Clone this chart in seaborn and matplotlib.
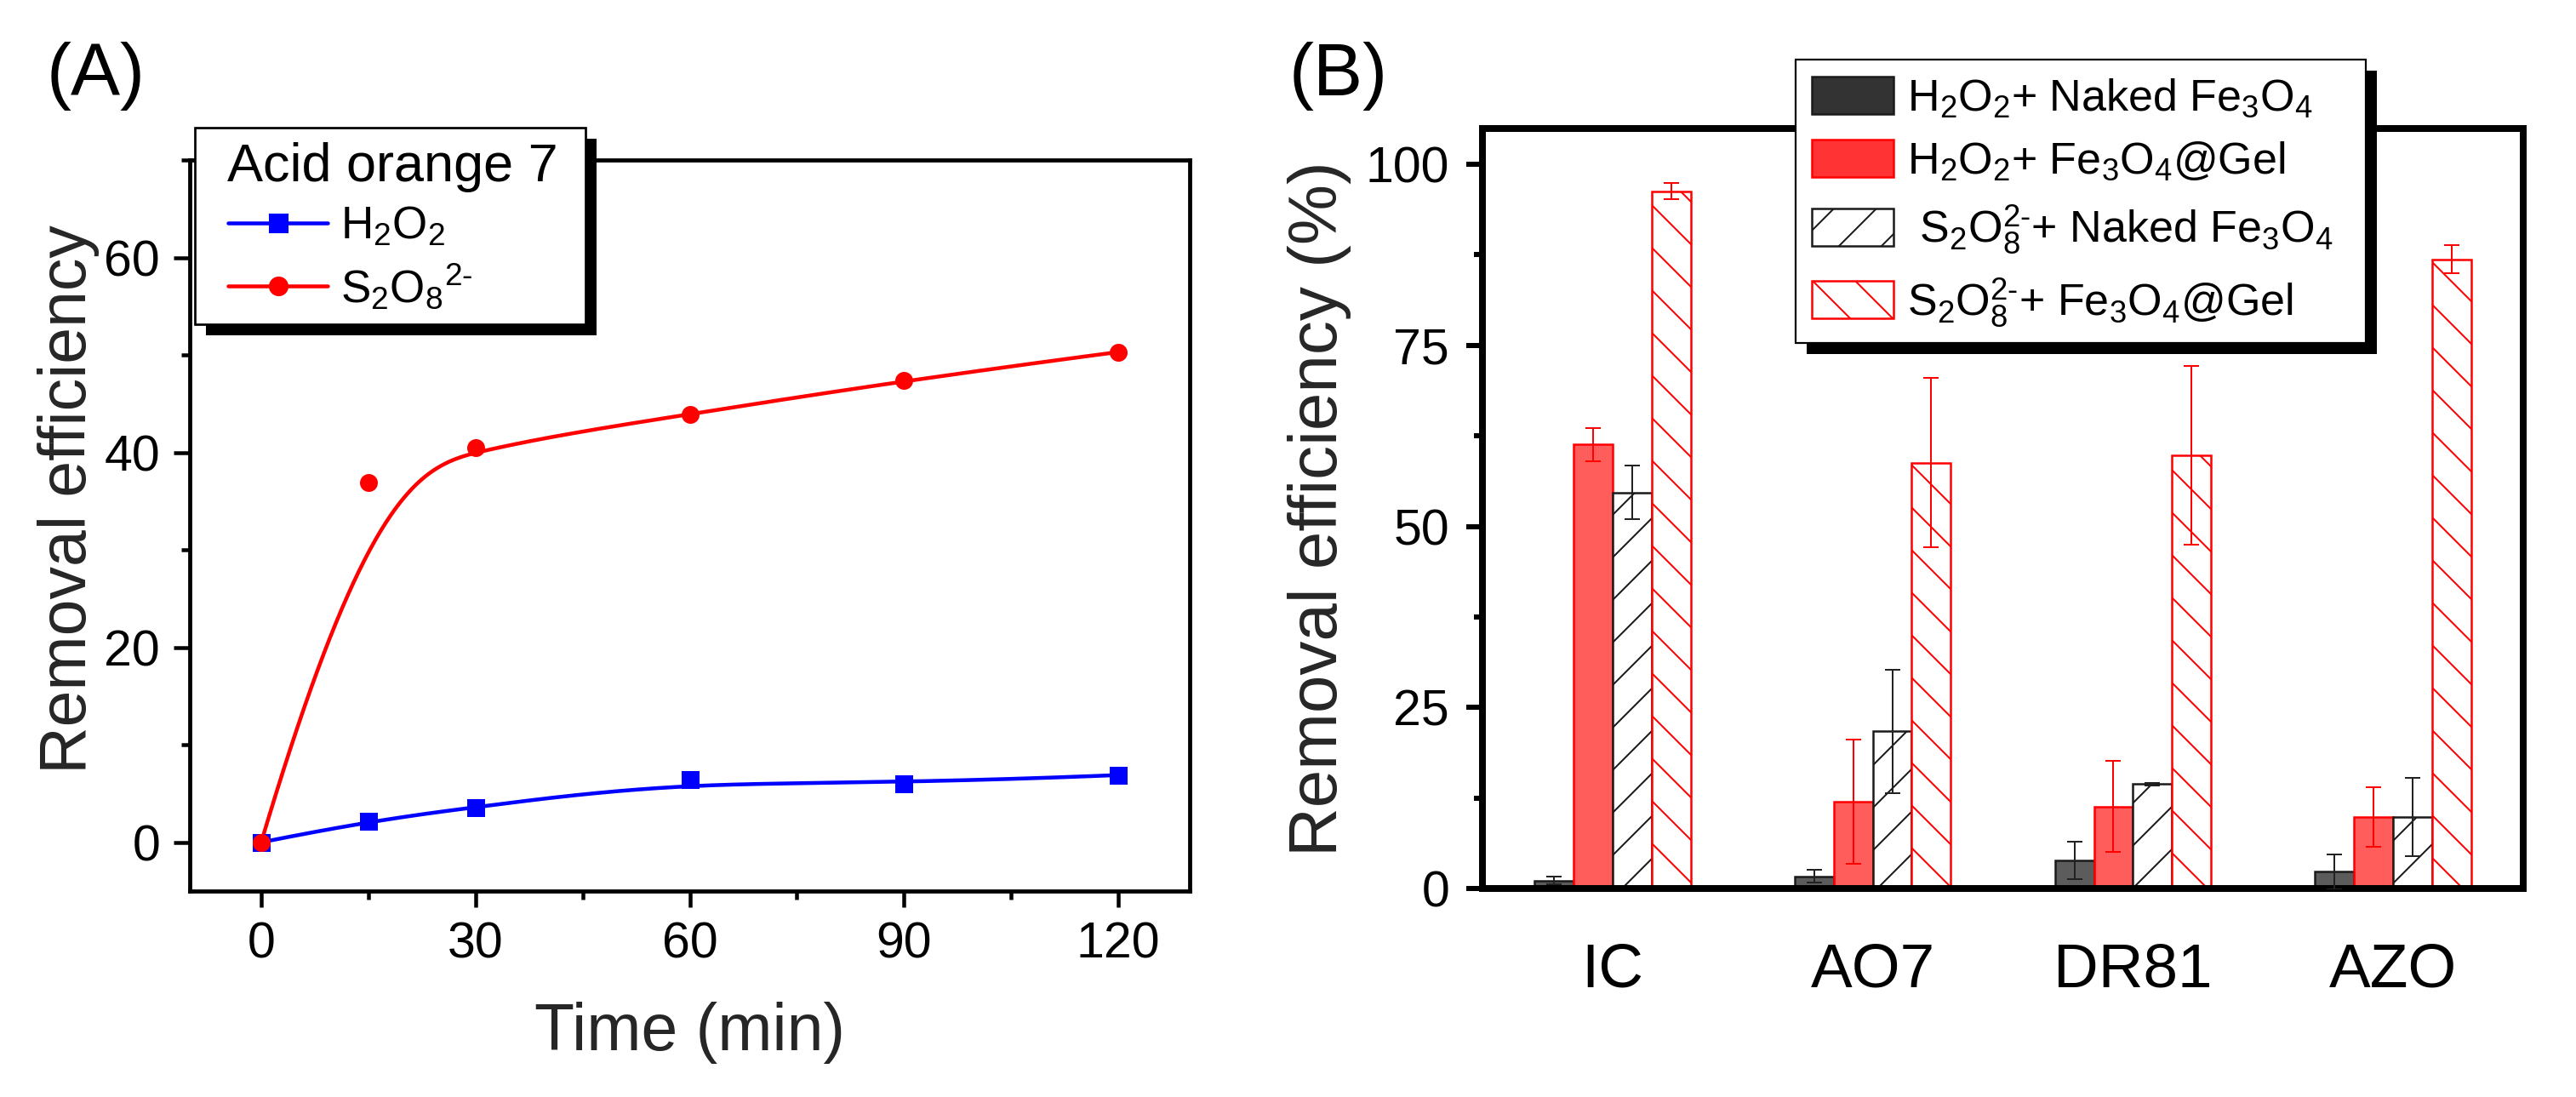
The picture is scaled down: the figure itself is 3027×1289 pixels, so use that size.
import numpy as np
import pandas as pd
import matplotlib
matplotlib.use("Agg")
import matplotlib.pyplot as plt
import seaborn as sns
from matplotlib.ticker import FixedLocator
from matplotlib.lines import Line2D
from matplotlib.patches import Rectangle, Patch
from matplotlib.transforms import IdentityTransform

# ---------------- data ----------------
time_min = [0, 15, 30, 60, 90, 120]
h2o2_removal = [0.0, 2.2, 3.6, 6.4, 6.0, 6.9]
s2o8_removal = [0.0, 36.9, 40.5, 43.9, 47.4, 50.3]

dyes = ["IC", "AO7", "DR81", "AZO"]
conditions = [r"H$_2$O$_2$+ Naked Fe$_3$O$_4$",
              r"H$_2$O$_2$+ Fe$_3$O$_4$@Gel",
              r" S$_2$O$_8^{2\text{-}}$+ Naked Fe$_3$O$_4$",
              r"S$_2$O$_8^{2\text{-}}$+ Fe$_3$O$_4$@Gel"]
h2o2_naked = [1.1, 1.7, 3.9, 2.3]
h2o2_naked_err = [0.5, 0.9, 2.6, 2.4]
h2o2_gel = [61.3, 12.0, 11.3, 9.9]
h2o2_gel_err = [2.3, 8.6, 6.3, 4.1]
s2o8_naked = [54.7, 21.7, 14.4, 9.9]
s2o8_naked_err = [3.7, 8.5, 0.2, 5.4]
s2o8_gel = [96.3, 58.8, 59.8, 86.9]
s2o8_gel_err = [1.1, 11.7, 12.3, 1.9]

# ---------------- setup ----------------
W, H = 3027, 1289
DPI = 150


def px(v):
    return v * 72.0 / DPI


sns.set_style("ticks")
plt.rcParams.update({
    "font.family": ["Liberation Sans", "DejaVu Sans"],
    "mathtext.fontset": "custom",
    "mathtext.rm": "Liberation Sans",
    "mathtext.it": "Liberation Sans:italic",
    "mathtext.bf": "Liberation Sans:bold",
    "mathtext.sf": "Liberation Sans",
    "hatch.linewidth": px(2.0),
    "axes.edgecolor": "black",
    "text.color": "black",
    "xtick.color": "black",
    "ytick.color": "black",
})

fig = plt.figure(figsize=(W / DPI, H / DPI), dpi=DPI)
axA = fig.add_axes([223 / W, 1 - 1047 / H, (1398 - 223) / W, (1047 - 188) / H])
axB = fig.add_axes([1742 / W, 1 - 1044 / H, (2965 - 1742) / W, (1044 - 150.5) / H])


def bspline_curve(xs, ys, degree=3, num=500):
    P = np.column_stack([xs, ys]).astype(float)
    n = len(P)
    k = degree
    knots = np.concatenate([np.zeros(k), np.linspace(0, 1, n - k + 1), np.ones(k)])
    u = np.linspace(0, 1, num)
    u[-1] -= 1e-10

    def N(i, p):
        if p == 0:
            return ((knots[i] <= u) & (u < knots[i + 1])).astype(float)
        out = np.zeros_like(u)
        d1 = knots[i + p] - knots[i]
        if d1 > 0:
            out += (u - knots[i]) / d1 * N(i, p - 1)
        d2 = knots[i + p + 1] - knots[i + 1]
        if d2 > 0:
            out += (knots[i + p + 1] - u) / d2 * N(i + 1, p - 1)
        return out

    B = np.array([N(i, k) for i in range(n)])
    c = B.T @ P
    return c[:, 0], c[:, 1]


def framed_box(ax, x0, y0, x1, y1, lw, off=13):
    """Legend frame with a solid offset shadow, in image-pixel coordinates."""
    sh = Rectangle((x0 + off, H - y1 - off), x1 - x0, y1 - y0,
                   transform=IdentityTransform(), facecolor="black",
                   edgecolor="none", zorder=8, clip_on=False)
    fr = Rectangle((x0, H - y1), x1 - x0, y1 - y0, transform=IdentityTransform(),
                   facecolor="white", edgecolor="black", lw=px(lw), zorder=9,
                   clip_on=False)
    ax.add_artist(sh)
    ax.add_artist(fr)


# ---------------- panel A ----------------
blue, red = "#0000ff", "#ff0000"
for ys, col, mk in [(h2o2_removal, blue, "s"), (s2o8_removal, red, "o")]:
    cx, cy = bspline_curve(time_min, ys)
    sns.lineplot(x=cx, y=cy, sort=False, estimator=None, color=col, lw=px(4.5),
                 ax=axA, legend=False, zorder=2)
    sns.scatterplot(x=time_min, y=ys, marker=mk, s=px(21) ** 2, color=col,
                    edgecolor=col, linewidth=0, ax=axA, legend=False, zorder=3)

axA.set_xlim(-10, 130)
axA.set_ylim(-5, 70)
axA.xaxis.set_major_locator(FixedLocator([0, 30, 60, 90, 120]))
axA.xaxis.set_minor_locator(FixedLocator([15, 45, 75, 105]))
axA.yaxis.set_major_locator(FixedLocator([0, 20, 40, 60]))
axA.yaxis.set_minor_locator(FixedLocator([10, 30, 50, 70]))
axA.tick_params(which="both", direction="out", width=px(4.5), top=False, right=False)
axA.tick_params(which="major", length=px(19), labelsize=px(59), pad=px(16))
axA.tick_params(which="minor", length=px(10))
for s in axA.spines.values():
    s.set_visible(True)
    s.set_linewidth(px(4.8))
axA.set_xlabel("Time (min)", fontsize=px(77))
axA.set_ylabel("Removal efficiency", fontsize=px(77))
axA.xaxis.set_label_coords(0.5, -0.151)
axA.yaxis.set_label_coords(-0.090, 0.5355)

framed_box(axA, 229, 150, 688, 381, lw=2.7)
axA.text(267 / W, 1 - 213 / H, "Acid orange 7", transform=fig.transFigure,
         fontsize=px(63), ha="left", va="baseline", zorder=11)
handlesA = [Line2D([], [], color=blue, lw=px(4.5), marker="s", ms=px(21)),
            Line2D([], [], color=red, lw=px(4.5), marker="o", ms=px(21))]
labelsA = [r"H$_2$O$_2$", r"S$_2$O$_8$$^{2\text{-}}$"]
legA = axA.legend(handlesA, labelsA, fontsize=px(53), loc="upper left",
                  bbox_to_anchor=(268 / W, 1 - 241 / H), bbox_transform=fig.transFigure,
                  borderaxespad=0, borderpad=0, frameon=False,
                  handlelength=117 / 53, handletextpad=0.28,
                  labelspacing=0.30, numpoints=1)
legA.set_zorder(10)

# ---------------- panel B ----------------
series_vals = [h2o2_naked, h2o2_gel, s2o8_naked, s2o8_gel]
series_errs = [h2o2_naked_err, h2o2_gel_err, s2o8_naked_err, s2o8_gel_err]
df = pd.DataFrame({
    "dye": np.tile(dyes, 4),
    "condition": np.repeat(conditions, len(dyes)),
    "value": np.concatenate(series_vals),
})
face_cols = [(0.2, 0.2, 0.2, 0.8), (1.0, 0.2, 0.2, 0.8), (1, 1, 1, 1), (1, 1, 1, 1)]
edge_cols = ["#1a1a1a", "#ff0000", "#1a1a1a", "#ff0000"]
hatches = [None, None, "/", "\\"]
err_cols = ["#222222", "#ff0000", "#222222", "#ff0000"]

sns.barplot(data=df, x="dye", y="value", hue="condition", order=dyes,
            hue_order=conditions, palette=["#333333", "#ff3333", "#ffffff", "#fffffe"],
            width=0.6, errorbar=None, saturation=1, ax=axB, legend=False)

bar_containers = list(axB.containers)
for i, cont in enumerate(bar_containers):
    xs = []
    for bar in cont:
        bar.set_facecolor(face_cols[i])
        bar.set_edgecolor(edge_cols[i])
        bar.set_linewidth(px(2.5))
        if hatches[i]:
            bar.set_hatch(hatches[i])
        xs.append(bar.get_x() + bar.get_width() / 2)
    axB.errorbar(xs, series_vals[i], yerr=series_errs[i], fmt="none",
                 ecolor=err_cols[i], elinewidth=px(2), capsize=px(9),
                 capthick=px(2), zorder=4)

axB.set_xlim(-0.5, 3.5)
axB.set_ylim(0, 105)
axB.yaxis.set_major_locator(FixedLocator([0, 25, 50, 75, 100]))
axB.yaxis.set_minor_locator(FixedLocator([12.5, 37.5, 62.5, 87.5]))
axB.tick_params(axis="y", which="both", direction="out", width=px(6), right=False)
axB.tick_params(axis="y", which="major", length=px(19), labelsize=px(59), pad=px(20))
axB.tick_params(axis="y", which="minor", length=px(10))
axB.tick_params(axis="x", which="both", length=0, labelsize=px(73), pad=px(64), top=False)
for s in axB.spines.values():
    s.set_visible(True)
    s.set_linewidth(px(8))
axB.set_xlabel("")
axB.set_ylabel("Removal efficiency (%)", fontsize=px(80))
axB.yaxis.set_label_coords(-0.126, 0.5)

framed_box(axB, 2110, 70, 2780, 403, lw=2.2)
handlesB = [Patch(facecolor="#333333", edgecolor="#1a1a1a", lw=px(2.5)),
            Patch(facecolor="#ff3333", edgecolor="#ff0000", lw=px(2.5)),
            Patch(facecolor="white", edgecolor="#1a1a1a", hatch="/", lw=px(2.5)),
            Patch(facecolor="white", edgecolor="#ff0000", hatch="\\", lw=px(2.5))]
legB = axB.legend(handlesB, conditions, fontsize=px(52), loc="upper left",
                  bbox_to_anchor=(2129 / W, 1 - 90 / H), bbox_transform=fig.transFigure,
                  borderaxespad=0, borderpad=0, frameon=False,
                  handlelength=96 / 52, handleheight=48 / 52,
                  handletextpad=0.3, labelspacing=0.45)
legB.set_zorder(10)

# panel labels
fig.text(55 / W, 1 - 112 / H, "(A)", fontsize=px(87), ha="left", va="baseline")
fig.text(1515 / W, 1 - 112 / H, "(B)", fontsize=px(87), ha="left", va="baseline")

fig.savefig("out.png", dpi=DPI, facecolor="white")
